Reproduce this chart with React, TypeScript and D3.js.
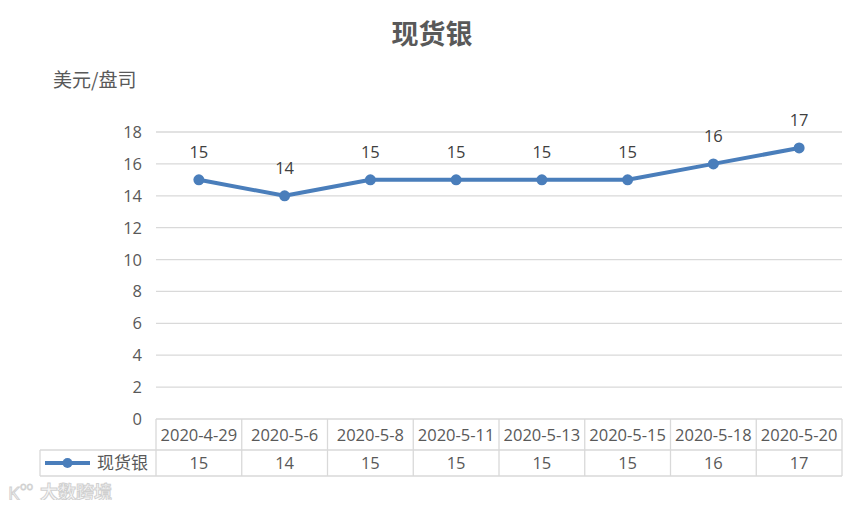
import React from "react";
import * as d3 from "d3";

const categories = ["2020-4-29", "2020-5-6", "2020-5-8", "2020-5-11", "2020-5-13", "2020-5-15", "2020-5-18", "2020-5-20"];
const values = [15, 14, 15, 15, 15, 15, 16, 17];
const yTicks = [0, 2, 4, 6, 8, 10, 12, 14, 16, 18];
const seriesName = "现货银";
const title = "现货银";
const unitLabel = "美元/盘司";

const W = 865, H = 508;
const left = 156, right = 842, top = 132, bottom = 419;
const FONT = "'Open Sans', 'Noto Sans CJK SC', sans-serif";
const CJK = "'Noto Sans CJK SC', sans-serif";
const GRID = "#d9d9d9";
const TXT = "#595959";
const LINE = "#4a7ebb";

export default function App() {
  const x = d3.scaleBand<string>().domain(categories).range([left, right]);
  const y = d3.scaleLinear().domain([0, 18]).range([bottom, top]);
  const pts: [number, number][] = values.map((v, i) => [x(categories[i])! + x.bandwidth() / 2, y(v)]);
  const line = d3.line()(pts) || "";
  const row1 = bottom, row2 = 450, row3 = 476;
  const legendLeft = 40;
  return (
    <div style={{ margin: -8 }}>
      <svg width={W} height={H} style={{ display: "block" }}>
        <rect x={0} y={0} width={W} height={H} fill="#fff" />
        <rect x={1} y={1} width={W - 2} height={H - 2} fill="none" stroke={GRID} strokeWidth={1.5} />
        <text x={432} y={44} textAnchor="middle" fontFamily={CJK} fontSize={27} fontWeight="bold" fill={TXT}>{title}</text>
        <text x={53} y={87} fontFamily={CJK} fontSize={19} fill={TXT}>{unitLabel}</text>
        {yTicks.map(t => (
          <g key={t}>
            <line x1={left} x2={right} y1={y(t)} y2={y(t)} stroke={GRID} strokeWidth={1.3} />
            <text x={142} y={y(t) + 6} textAnchor="end" fontFamily={FONT} fontSize={16.5} fill={TXT}>{t}</text>
          </g>
        ))}
        {/* data table */}
        <line x1={legendLeft} x2={right} y1={row2} y2={row2} stroke={GRID} strokeWidth={1.3} />
        <line x1={legendLeft} x2={right} y1={row3} y2={row3} stroke={GRID} strokeWidth={1.3} />
        <line x1={legendLeft} x2={legendLeft} y1={row2} y2={row3} stroke={GRID} strokeWidth={1.3} />
        {categories.map((c, i) => (
          <line key={"v" + i} x1={x(c)!} x2={x(c)!} y1={row1} y2={row3} stroke={GRID} strokeWidth={1.3} />
        ))}
        <line x1={right} x2={right} y1={row1} y2={row3} stroke={GRID} strokeWidth={1.3} />
        {categories.map((c, i) => (
          <g key={"t" + i}>
            <text x={x(c)! + x.bandwidth() / 2} y={row1 + 22} textAnchor="middle" fontFamily={FONT} fontSize={16.5} fill={TXT}>{c}</text>
            <text x={x(c)! + x.bandwidth() / 2} y={row2 + 19} textAnchor="middle" fontFamily={FONT} fontSize={16.5} fill={TXT}>{values[i]}</text>
          </g>
        ))}
        <line x1={45} x2={90} y1={463} y2={463} stroke={LINE} strokeWidth={4} />
        <circle cx={67.5} cy={463} r={5} fill={LINE} />
        <text x={97} y={469} fontFamily={CJK} fontSize={17} fill={TXT}>{seriesName}</text>
        {/* series */}
        <path d={line} fill="none" stroke={LINE} strokeWidth={4} strokeLinejoin="round" />
        {pts.map((p, i) => (
          <g key={"p" + i}>
            <circle cx={p[0]} cy={p[1]} r={5.5} fill={LINE} />
            <text x={p[0]} y={p[1] - 22} textAnchor="middle" fontFamily={FONT} fontSize={16.5} fill="#404040">{values[i]}</text>
          </g>
        ))}
        {/* watermark */}
        <g opacity={0.45}>
          <text x={8} y={500} fontFamily={FONT} fontSize={19} fill="#fff" stroke="#999" strokeWidth={1}>K</text>
          <text x={20} y={490} fontFamily={FONT} fontSize={11} fill="#fff" stroke="#999" strokeWidth={0.8}>oo</text>
          <text x={40} y={499} fontFamily={CJK} fontSize={18} fontWeight="bold" fill="#eee" stroke="#999" strokeWidth={1}>大数跨境</text>
        </g>
      </svg>
    </div>
  );
}
